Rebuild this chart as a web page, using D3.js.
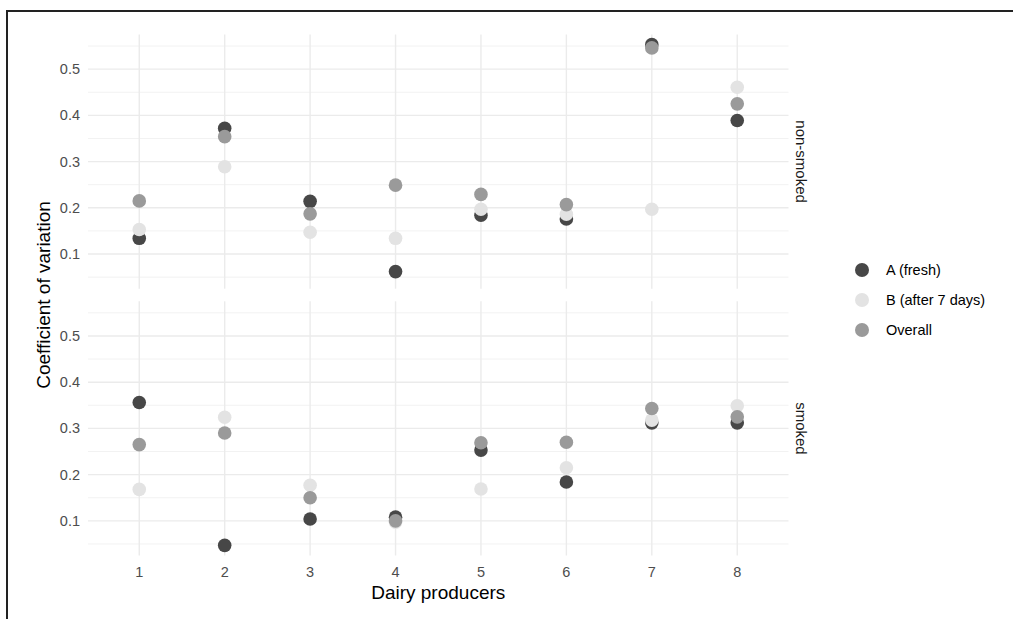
<!DOCTYPE html>
<html>
<head>
<meta charset="utf-8">
<script src="https://cdn.jsdelivr.net/npm/d3@7"></script>
<style>
  body { margin: 0; background: #fff; }
  text { font-family: "Liberation Sans", Arial, sans-serif; }
</style>
</head>
<body>
<div id="chart"></div>
<script>
// data
var producers = [1, 2, 3, 4, 5, 6, 7, 8];
var panels = ["non-smoked", "smoked"];
var seriesNames = ["A (fresh)", "B (after 7 days)", "Overall"];
var seriesColors = ["#474747", "#e3e3e3", "#9a9a9a"];
var yTicks = [0.1, 0.2, 0.3, 0.4, 0.5];
var yMinor = [0.05, 0.15, 0.25, 0.35, 0.45, 0.55];

var nonSmokedA = [0.134, 0.372, 0.214, 0.062, 0.184, 0.176, 0.553, 0.389];
var nonSmokedB = [0.153, 0.289, 0.147, 0.134, 0.197, 0.186, 0.197, 0.461];
var nonSmokedAll = [0.215, 0.354, 0.187, 0.249, 0.229, 0.207, 0.546, 0.425];
var smokedA = [0.356, 0.047, 0.104, 0.108, 0.253, 0.184, 0.312, 0.312];
var smokedB = [0.168, 0.324, 0.177, 0.097, 0.169, 0.215, 0.318, 0.349];
var smokedAll = [0.265, 0.290, 0.150, 0.100, 0.269, 0.270, 0.343, 0.325];

var panelData = {
  "non-smoked": [nonSmokedA, nonSmokedB, nonSmokedAll],
  "smoked": [smokedA, smokedB, smokedAll]
};

var W = 1013, H = 619;
var svg = d3.select("#chart").append("svg")
  .attr("width", W).attr("height", H);

// frame lines around the picture
svg.append("line").attr("x1", 7).attr("x2", W).attr("y1", 11).attr("y2", 11)
  .attr("stroke", "#222").attr("stroke-width", 2);
svg.append("line").attr("x1", 7).attr("x2", 7).attr("y1", 10).attr("y2", H)
  .attr("stroke", "#222").attr("stroke-width", 2);

var left = 88, right = 788.5;
var panelTops = [34.5, 301.3], panelH = 254.2;

var x = d3.scaleLinear().domain([0.4, 8.6]).range([left, right]);

panels.forEach(function(p, pi) {
  var top = panelTops[pi];
  var y = d3.scaleLinear().domain([0.025, 0.575]).range([top + panelH, top]);
  var g = svg.append("g");

  // minor gridlines
  g.selectAll(".minor").data(yMinor).enter().append("line")
    .attr("x1", left).attr("x2", right)
    .attr("y1", function(d) { return y(d); }).attr("y2", function(d) { return y(d); })
    .attr("stroke", "#f2f2f2").attr("stroke-width", 1);
  // major gridlines
  g.selectAll(".major").data(yTicks).enter().append("line")
    .attr("x1", left).attr("x2", right)
    .attr("y1", function(d) { return y(d); }).attr("y2", function(d) { return y(d); })
    .attr("stroke", "#ebebeb").attr("stroke-width", 1.4);
  g.selectAll(".vgrid").data(producers).enter().append("line")
    .attr("x1", function(d) { return x(d); }).attr("x2", function(d) { return x(d); })
    .attr("y1", top).attr("y2", top + panelH)
    .attr("stroke", "#ebebeb").attr("stroke-width", 1.4);

  // y axis labels
  g.selectAll(".ylab").data(yTicks).enter().append("text")
    .attr("x", 80).attr("y", function(d) { return y(d); })
    .attr("dy", "0.35em").attr("text-anchor", "end")
    .style("font-size", "14.5px").style("fill", "#4d4d4d")
    .text(function(d) { return d3.format(".1f")(d); });

  // points: A, then B, then Overall
  panelData[p].forEach(function(vals, si) {
    g.selectAll(".pt" + si).data(vals).enter().append("circle")
      .attr("cx", function(d, i) { return x(producers[i]); })
      .attr("cy", function(d) { return y(d); })
      .attr("r", 6.8)
      .attr("fill", seriesColors[si]);
  });

  // strip label
  var sx = 801, sy = top + panelH / 2;
  g.append("text")
    .attr("transform", "translate(" + sx + "," + sy + ") rotate(90)")
    .attr("text-anchor", "middle").attr("dy", "0.35em")
    .style("font-size", "15px").style("fill", "#1a1a1a")
    .text(p);
});

// x tick labels
svg.selectAll(".xlab").data(producers).enter().append("text")
  .attr("x", function(d) { return x(d); }).attr("y", 572)
  .attr("dy", "0.35em").attr("text-anchor", "middle")
  .style("font-size", "14.5px").style("fill", "#4d4d4d")
  .text(function(d) { return d; });

// axis titles
svg.append("text")
  .attr("x", (left + right) / 2).attr("y", 592).attr("dy", "0.35em")
  .attr("text-anchor", "middle")
  .style("font-size", "19px").style("fill", "#000")
  .text("Dairy producers");
svg.append("text")
  .attr("transform", "translate(43," + ((panelTops[0] + panelTops[1] + panelH) / 2) + ") rotate(-90)")
  .attr("dy", "0.35em").attr("text-anchor", "middle")
  .style("font-size", "19px").style("fill", "#000")
  .text("Coefficient of variation");

// legend
var legend = svg.append("g");
seriesNames.forEach(function(name, i) {
  var ly = 270 + i * 30;
  legend.append("circle").attr("cx", 862).attr("cy", ly).attr("r", 7)
    .attr("fill", seriesColors[i]);
  legend.append("text").attr("x", 886).attr("y", ly).attr("dy", "0.35em")
    .style("font-size", "14.5px").style("fill", "#000")
    .text(name);
});
</script>
</body>
</html>
